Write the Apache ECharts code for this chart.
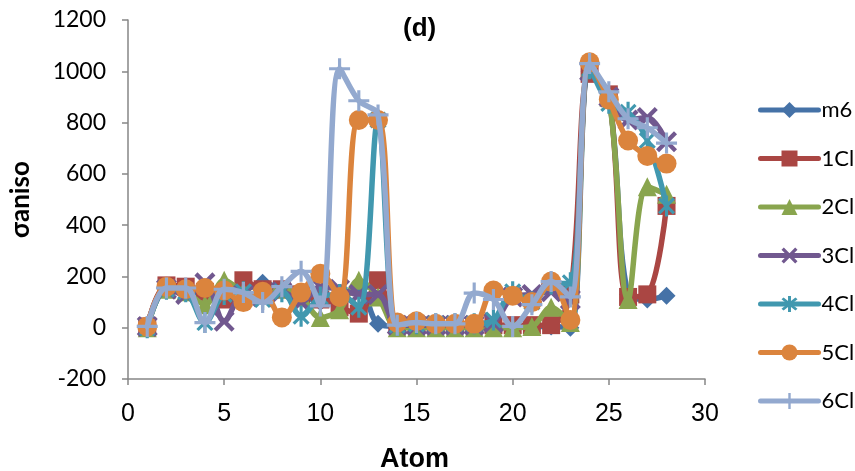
<!DOCTYPE html>
<html>
<head>
<meta charset="utf-8">
<script src="https://cdn.jsdelivr.net/npm/echarts@6/dist/echarts.min.js"></script>
<style>
  html, body { margin: 0; padding: 0; background: #fff; }
  #chart { width: 855px; height: 471px; }
</style>
</head>
<body>
<div id="chart"></div>
<script>
// Atom index along the x axis
const atoms = [1,2,3,4,5,6,7,8,9,10,11,12,13,14,15,16,17,18,19,20,21,22,23,24,25,26,27,28];

// Anisotropic shielding per atom for each structure
const m6  = [5,160,150,130,160,150,175,150,130,100,120,160,15,5,5,5,5,5,5,5,5,5,0,1000,900,130,110,125];
const cl1 = [5,165,160,140,110,185,150,150,130,110,80,55,185,10,10,10,10,10,10,10,10,10,130,990,910,120,130,475];
const cl2 = [0,150,140,90,185,140,130,150,120,40,70,185,120,0,0,0,0,0,0,0,5,80,20,1010,900,110,550,520];
const cl3 = [5,150,130,175,25,130,120,140,100,160,150,130,130,10,10,10,10,10,20,120,130,140,110,1000,900,810,820,725];
const cl4 = [0,150,140,20,130,140,110,140,45,120,130,80,810,10,15,15,15,15,30,140,100,170,175,1010,875,840,730,475];
const cl5 = [5,160,150,155,145,100,140,40,137,210,120,810,810,20,25,15,15,15,145,125,100,180,30,1035,890,730,670,640];
const cl6 = [5,155,155,20,150,137,98,160,220,85,1010,885,830,10,20,15,15,135,110,5,90,180,120,1030,920,815,780,720];

const seriesNames = ['m6', '1Cl', '2Cl', '3Cl', '4Cl', '5Cl', '6Cl'];
const seriesValues = [m6, cl1, cl2, cl3, cl4, cl5, cl6];

const xTicks = { min: 0, max: 30, step: 5 };
const yTicks = { min: -200, max: 1200, step: 200 };

// Build a filled polygon of thin arms (used for x, + and star markers)
function armsPath(anglesDeg, len, w) {
  const a = anglesDeg.slice().sort((p, q) => p - q);
  const pts = [];
  const d = t => [Math.cos(t), Math.sin(t)];
  for (let i = 0; i < a.length; i++) {
    const t = a[i] * Math.PI / 180;
    const tn = (i + 1 < a.length ? a[i + 1] : a[0] + 360) * Math.PI / 180;
    const [dx, dy] = d(t);
    const [px, py] = d(t + Math.PI / 2);
    pts.push([len * dx - w * px, len * dy - w * py]);
    pts.push([len * dx + w * px, len * dy + w * py]);
    const half = (tn - t) / 2;
    const rin = w / Math.sin(half);
    const [bx, by] = d(t + half);
    pts.push([rin * bx, rin * by]);
  }
  return 'path://' + pts.map((p, i) => (i ? 'L' : 'M') + p[0].toFixed(3) + ',' + p[1].toFixed(3)).join(' ') + ' Z';
}

const xMark = armsPath([45, 135, 225, 315], 10, 1.7);
const plusMark = armsPath([0, 90, 180, 270], 10, 1.5);
const starMark = armsPath([45, 90, 135, 225, 270, 315], 10, 1.5);

const styles = [
  { color: '#4572A7', symbol: 'diamond', size: 18 },
  { color: '#AA4643', symbol: 'rect', size: 18 },
  { color: '#89A54E', symbol: 'triangle', size: 19 },
  { color: '#71588F', symbol: xMark, size: 21 },
  { color: '#4198AF', symbol: starMark, size: 21 },
  { color: '#DB843D', symbol: 'circle', size: 20 },
  { color: '#93A9CF', symbol: plusMark, size: 21 }
];

const series = seriesNames.map((name, i) => ({
  name: name,
  type: 'line',
  z: 2 + i,
  smooth: 0.35,
  data: atoms.map((x, j) => [x, seriesValues[i][j]]),
  symbol: styles[i].symbol,
  symbolSize: styles[i].size,
  symbolKeepAspect: true,
  showAllSymbol: true,
  lineStyle: { color: styles[i].color, width: 5.5, cap: 'round', join: 'round' },
  itemStyle: { color: styles[i].color, borderWidth: 0 },
  emphasis: { disabled: true },
  animation: false
}));

const chart = echarts.init(document.getElementById('chart'), null, { renderer: 'canvas' });
chart.setOption({
  backgroundColor: '#ffffff',
  animation: false,
  grid: { left: 128, right: 150, top: 20, bottom: 92, containLabel: false },
  xAxis: {
    type: 'value',
    min: xTicks.min, max: xTicks.max, interval: xTicks.step,
    axisLine: { onZero: false, lineStyle: { color: '#868686', width: 1.5 } },
    axisTick: { show: true, length: 6, lineStyle: { color: '#868686', width: 1.5 } },
    splitLine: { show: false },
    axisLabel: { color: '#000', fontFamily: '"Liberation Sans Narrow", "Liberation Sans"', fontSize: 25, margin: 23 }
  },
  yAxis: {
    type: 'value',
    min: yTicks.min, max: yTicks.max, interval: yTicks.step,
    axisLine: { show: true, lineStyle: { color: '#868686', width: 1.5 } },
    axisTick: { show: true, length: 6, lineStyle: { color: '#868686', width: 1.5 } },
    splitLine: { show: false },
    axisLabel: { color: '#000', fontFamily: 'Lato', fontSize: 23, margin: 22, formatter: v => String(v) }
  },
  legend: {
    orient: 'vertical',
    left: 753, top: 94,
    itemWidth: 58, itemHeight: 20, itemGap: 26.5,
    lineStyle: { width: 5 },
    textStyle: { color: '#000', fontFamily: 'Lato', fontSize: 22, padding: [0, 0, 0, -2] },
    data: seriesNames
  },
  graphic: [
    { type: 'text', left: 403, top: 16, style: { text: '(d)', font: 'bold 26px "Liberation Sans"', fill: '#000' } },
    { type: 'text', left: 380, top: 446, style: { text: 'Atom', font: 'bold 27px "Liberation Sans Narrow", "Liberation Sans"', fill: '#000' } },
    { type: 'text', x: 8, y: 238, rotation: Math.PI / 2, style: { text: 'σaniso', font: 'bold 26px Lato', fill: '#000' } }
  ],
  series: series
});
</script>
</body>
</html>
